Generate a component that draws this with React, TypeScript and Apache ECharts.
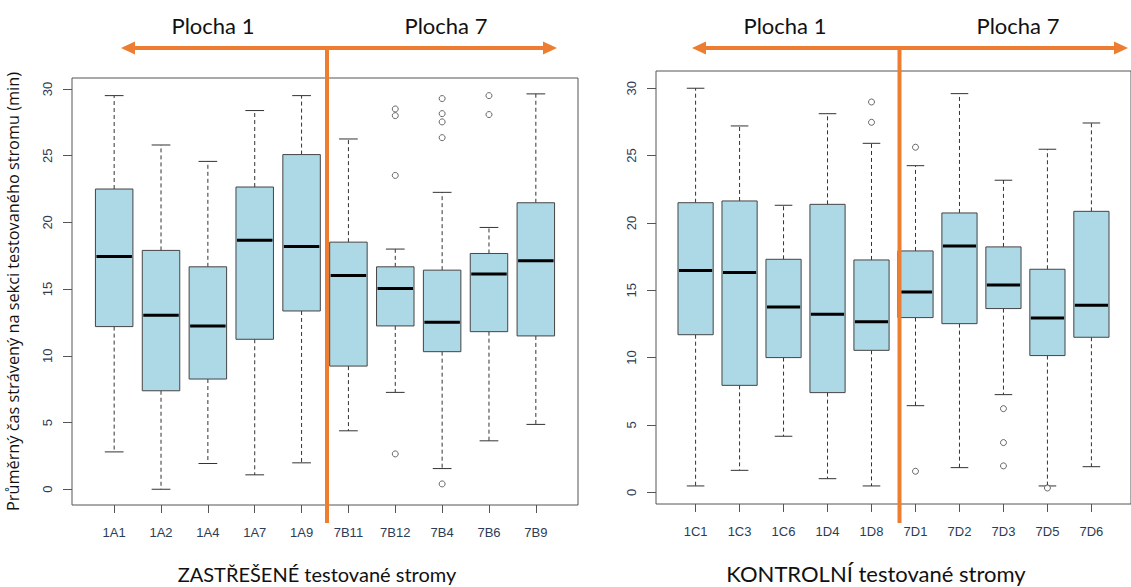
import React, { useEffect, useRef } from "react";
import * as echarts from "echarts";

// ---------- data ----------
const leftCats = ["1A1", "1A2", "1A4", "1A7", "1A9", "7B11", "7B12", "7B4", "7B6", "7B9"];
const leftMin = [2.8, 0.0, 1.93, 1.08, 1.98, 4.38, 7.26, 1.55, 3.63, 4.86];
const leftQ1 = [12.19, 7.38, 8.26, 11.24, 13.36, 9.23, 12.24, 10.31, 11.81, 11.49];
const leftMed = [17.44, 13.04, 12.24, 18.67, 18.19, 16.02, 15.04, 12.51, 16.14, 17.12];
const leftQ3 = [22.5, 17.9, 16.67, 22.65, 25.08, 18.52, 16.67, 16.42, 17.67, 21.47];
const leftMax = [29.5, 25.8, 24.57, 28.38, 29.5, 26.25, 18.0, 22.25, 19.62, 29.63];
const leftOutliers: [string, number][] = [
  ["7B12", 28.5], ["7B12", 28.0], ["7B12", 23.52], ["7B12", 2.65],
  ["7B4", 29.28], ["7B4", 28.15], ["7B4", 27.53], ["7B4", 26.35], ["7B4", 0.4],
  ["7B6", 29.5], ["7B6", 28.08],
];

const rightCats = ["1C1", "1C3", "1C6", "1D4", "1D8", "7D1", "7D2", "7D3", "7D5", "7D6"];
const rightMin = [0.47, 1.63, 4.16, 1.01, 0.47, 6.43, 1.83, 7.25, 0.47, 1.9];
const rightQ1 = [11.7, 7.94, 10.0, 7.4, 10.54, 12.97, 12.52, 13.64, 10.15, 11.51];
const rightMed = [16.46, 16.31, 13.76, 13.21, 12.67, 14.87, 18.29, 15.39, 12.94, 13.88];
const rightQ3 = [21.5, 21.63, 17.3, 21.38, 17.25, 17.92, 20.74, 18.22, 16.56, 20.86];
const rightMax = [30.0, 27.2, 21.31, 28.11, 25.91, 24.25, 29.6, 23.17, 25.47, 27.42];
const rightOutliers: [string, number][] = [
  ["1D8", 28.98], ["1D8", 27.47],
  ["7D1", 25.62], ["7D1", 1.56],
  ["7D3", 6.21], ["7D3", 3.69], ["7D3", 1.96],
  ["7D5", 0.32],
];

const yTicks = [0, 5, 10, 15, 20, 25, 30];
const yTitle = "Průměrný čas strávený na sekci testovaného stromu (min)";
const leftTitle = "ZASTŘEŠENÉ testované stromy";
const rightTitle = "KONTROLNÍ testované stromy";
const plotLabels = ["Plocha 1", "Plocha 7"];

// ---------- helpers ----------
const ORANGE = "#ED7D31";
const TICK_COLOR = "#2e3b55";
const positions = (n: number) => Array.from({ length: n }, (_, i) => i + 1);

function boxData(mn: number[], q1: number[], md: number[], q3: number[], mx: number[]) {
  return mn.map((_, i) => [i + 1, mn[i], q1[i], md[i], q3[i], mx[i]]);
}
function outlierData(cats: string[], outs: [string, number][]) {
  return outs.map(([c, v]) => [cats.indexOf(c) + 1, v]);
}

function renderBox(params: any, api: any) {
  const x = api.value(0);
  const bw = api.size([1, 0])[0] * 0.8;
  const half = bw / 2;
  const cap = bw / 4;
  const pMin = api.coord([x, api.value(1)]);
  const pQ1 = api.coord([x, api.value(2)]);
  const pMed = api.coord([x, api.value(3)]);
  const pQ3 = api.coord([x, api.value(4)]);
  const pMax = api.coord([x, api.value(5)]);
  const cx = pMed[0];
  const dash = { stroke: "#333", lineWidth: 1, lineDash: [4, 3] };
  const solid = { stroke: "#333", lineWidth: 1 };
  return {
    type: "group",
    children: [
      { type: "line", shape: { x1: cx, y1: pQ3[1], x2: cx, y2: pMax[1] }, style: dash },
      { type: "line", shape: { x1: cx, y1: pQ1[1], x2: cx, y2: pMin[1] }, style: dash },
      { type: "line", shape: { x1: cx - cap, y1: pMax[1], x2: cx + cap, y2: pMax[1] }, style: solid },
      { type: "line", shape: { x1: cx - cap, y1: pMin[1], x2: cx + cap, y2: pMin[1] }, style: solid },
      {
        type: "rect",
        shape: { x: cx - half, y: pQ3[1], width: bw, height: pQ1[1] - pQ3[1] },
        style: { fill: "#ADD8E6", stroke: "#444", lineWidth: 1 },
      },
      {
        type: "line",
        shape: { x1: cx - half + 1, y1: pMed[1], x2: cx + half - 1, y2: pMed[1] },
        style: { stroke: "#000", lineWidth: 3 },
      },
    ],
  };
}

function makeXAxis(gridIndex: number, cats: string[]) {
  return {
    type: "value",
    gridIndex,
    min: 0.1,
    max: 10.9,
    axisLine: { show: false, onZero: false },
    splitLine: { show: false },
    axisTick: { show: true, length: 8, customValues: positions(cats.length), lineStyle: { color: "#555" } },
    axisLabel: {
      customValues: positions(cats.length),
      formatter: (v: number) => cats[Math.round(v) - 1] ?? "",
      margin: 21,
      color: TICK_COLOR,
      fontFamily: "Liberation Sans",
      fontSize: 13,
    },
  };
}

function makeYAxis(gridIndex: number, min: number, max: number, withName: boolean) {
  return {
    type: "value",
    gridIndex,
    min,
    max,
    axisLine: { show: false, onZero: false },
    splitLine: { show: false },
    axisTick: { show: true, length: 9, customValues: yTicks, lineStyle: { color: "#555" } },
    axisLabel: {
      customValues: yTicks,
      rotate: 90,
      margin: 18,
      color: TICK_COLOR,
      fontFamily: "Liberation Sans",
      fontSize: 13,
    },
    ...(withName
      ? {
          name: yTitle,
          nameLocation: "middle",
          nameRotate: 90,
          nameGap: 51,
          nameTextStyle: { fontFamily: "Open Sans", fontSize: 16.3, color: "#111" },
        }
      : {}),
  };
}

function arrowGroup(xL: number, xR: number, y: number, xV: number, yBottom: number) {
  const head = 14;
  const hh = 6.5;
  return [
    { type: "line", z: 100, shape: { x1: xL + head - 2, y1: y, x2: xR - head + 2, y2: y }, style: { stroke: ORANGE, lineWidth: 4 } },
    { type: "polygon", z: 100, shape: { points: [[xL, y], [xL + head, y - hh], [xL + head, y + hh]] }, style: { fill: ORANGE } },
    { type: "polygon", z: 100, shape: { points: [[xR, y], [xR - head, y - hh], [xR - head, y + hh]] }, style: { fill: ORANGE } },
    { type: "line", z: 100, shape: { x1: xV, y1: y - 2, x2: xV, y2: yBottom }, style: { stroke: ORANGE, lineWidth: 4 } },
  ];
}

function txt(text: string, x: number, y: number, size: number) {
  return {
    type: "text",
    z: 100,
    style: {
      text,
      x,
      y,
      fill: "#111",
      font: `${size}px Lato`,
      textAlign: "center",
      textVerticalAlign: "middle",
    },
  };
}

export default function App() {
  const ref = useRef<HTMLDivElement>(null);
  useEffect(() => {
    if (!ref.current) return;
    const chart = echarts.init(ref.current, undefined, { renderer: "svg" });
    chart.setOption({
      animation: false,
      backgroundColor: "#fff",
      grid: [
        { left: 72, top: 78, width: 506, height: 427, show: true, borderColor: "#555", borderWidth: 1, backgroundColor: "transparent" },
        { left: 656, top: 71, width: 486, height: 433, show: true, borderColor: "#555", borderWidth: 1, backgroundColor: "transparent" },
      ],
      xAxis: [makeXAxis(0, leftCats), makeXAxis(1, rightCats)],
      yAxis: [makeYAxis(0, -1.18, 30.82, true), makeYAxis(1, -0.87, 31.28, false)],
      series: [
        {
          type: "custom",
          xAxisIndex: 0,
          yAxisIndex: 0,
          renderItem: renderBox,
          encode: { x: 0, y: [1, 2, 3, 4, 5] },
          data: boxData(leftMin, leftQ1, leftMed, leftQ3, leftMax),
        },
        {
          type: "scatter",
          xAxisIndex: 0,
          yAxisIndex: 0,
          symbol: "circle",
          symbolSize: 6,
          itemStyle: { color: "#fff", borderColor: "#444", borderWidth: 1 },
          data: outlierData(leftCats, leftOutliers),
        },
        {
          type: "custom",
          xAxisIndex: 1,
          yAxisIndex: 1,
          renderItem: renderBox,
          encode: { x: 0, y: [1, 2, 3, 4, 5] },
          data: boxData(rightMin, rightQ1, rightMed, rightQ3, rightMax),
        },
        {
          type: "scatter",
          xAxisIndex: 1,
          yAxisIndex: 1,
          symbol: "circle",
          symbolSize: 6,
          itemStyle: { color: "#fff", borderColor: "#444", borderWidth: 1 },
          data: outlierData(rightCats, rightOutliers),
        },
      ],
      graphic: [
        ...arrowGroup(121, 557, 48, 327, 523),
        ...arrowGroup(692, 1128, 48, 899.5, 523),
        txt(plotLabels[0], 213, 25, 22),
        txt(plotLabels[1], 446, 25, 22),
        txt(plotLabels[0], 785, 25, 22),
        txt(plotLabels[1], 1018, 25, 22),
        txt(leftTitle, 317, 574, 20),
        txt(rightTitle, 876, 573, 22),
      ],
    });
    return () => chart.dispose();
  }, []);
  return (
    <div
      ref={ref}
      style={{ position: "absolute", left: 0, top: 0, width: 1131, height: 587, overflow: "hidden" }}
    />
  );
}
